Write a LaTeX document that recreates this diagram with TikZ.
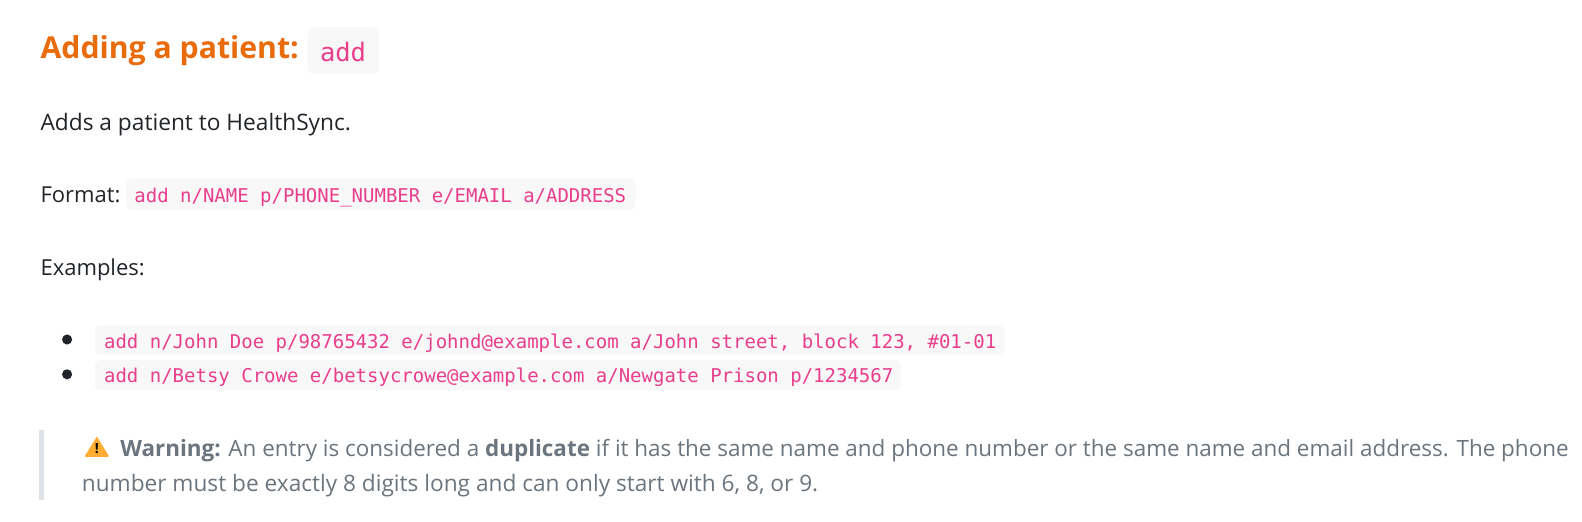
\documentclass[tikz,border=0pt]{standalone}
\usepackage{fontspec}
\setmainfont{Open Sans}
\newfontfamily\codef{DejaVu Sans Mono}
\definecolor{hd}{HTML}{E96C0C}
\definecolor{pk}{HTML}{E83E8C}
\definecolor{cbg}{HTML}{F8F8F8}
\definecolor{gy}{HTML}{6C757D}
\definecolor{bar}{HTML}{DFE2E5}
\definecolor{tx}{HTML}{212529}
\definecolor{wo}{HTML}{FFAC33}
\tikzset{
 txt/.style={anchor=base west,inner sep=0pt,text=tx,font=\fontsize{22}{26}\selectfont},
 code/.style={anchor=base west,inner sep=0pt,text=pk,font=\codef\fontsize{19}{22}\selectfont},
 cbox/.style={fill=cbg,rounded corners=6pt,draw=none},
 warn/.style={anchor=base west,inner sep=0pt,text=gy,font=\fontsize{22.45}{26}\selectfont},
}
\begin{document}
\begin{tikzpicture}[x=1.009pt,y=-1.009pt]
\useasboundingbox (0,0) rectangle (1568,516.4);
\fill[white] (0,0) rectangle (1568,516.4);
\fill[cbox] (305,27) rectangle (376,73);
\node[anchor=base west,inner sep=0pt,text=hd,font=\fontsize{30.2}{34}\selectfont\bfseries] (h) at (40,58) {Adding a patient:};
\node[code,font=\codef\fontsize{25.5}{28}\selectfont] (hc) at (317,61) {add};
\node[txt,font=\fontsize{22.7}{26}\selectfont] (p1) at (40,129) {Adds a patient to HealthSync.};
\node[txt] (p2) at (40,201) {Format:};
\fill[cbox] (125,177) rectangle (630,208);
\node[code] (c1) at (133,201) {add n/NAME p/PHONE\_NUMBER e/EMAIL a/ADDRESS};
\node[txt] (p3) at (40,273.5) {Examples:};
\fill[tx] (66.5,336.5) circle (5);
\fill[tx] (66.5,371) circle (5);
\fill[cbox] (94,322) rectangle (996,352);
\node[code] (c2) at (103,345) {add n/John Doe p/98765432 e/johnd@example.com a/John street, block 123, \#01-01};
\fill[cbox] (94,357) rectangle (893,387);
\node[code] (c3) at (103,379) {add n/Betsy Crowe e/betsycrowe@example.com a/Newgate Prison p/1234567};
\fill[bar] (39,426) rectangle (44,496);
\fill[wo,draw=wo,line width=1.5pt,line join=round] (96,434) -- (107,452) -- (85,452) -- cycle;
\node[anchor=center,inner sep=0pt,text=black,font=\fontsize{14}{14}\selectfont\bfseries] (w0) at (96,445) {!};
\node[warn] (w1) at (119,452) {\textbf{Warning:} An entry is considered a \textbf{duplicate} if it has the same name and phone number or the same name and email address. The phone};
\node[warn,font=\fontsize{22.65}{26}\selectfont] (w2) at (81,487) {number must be exactly 8 digits long and can only start with 6, 8, or 9.};
\end{tikzpicture}
\end{document}
